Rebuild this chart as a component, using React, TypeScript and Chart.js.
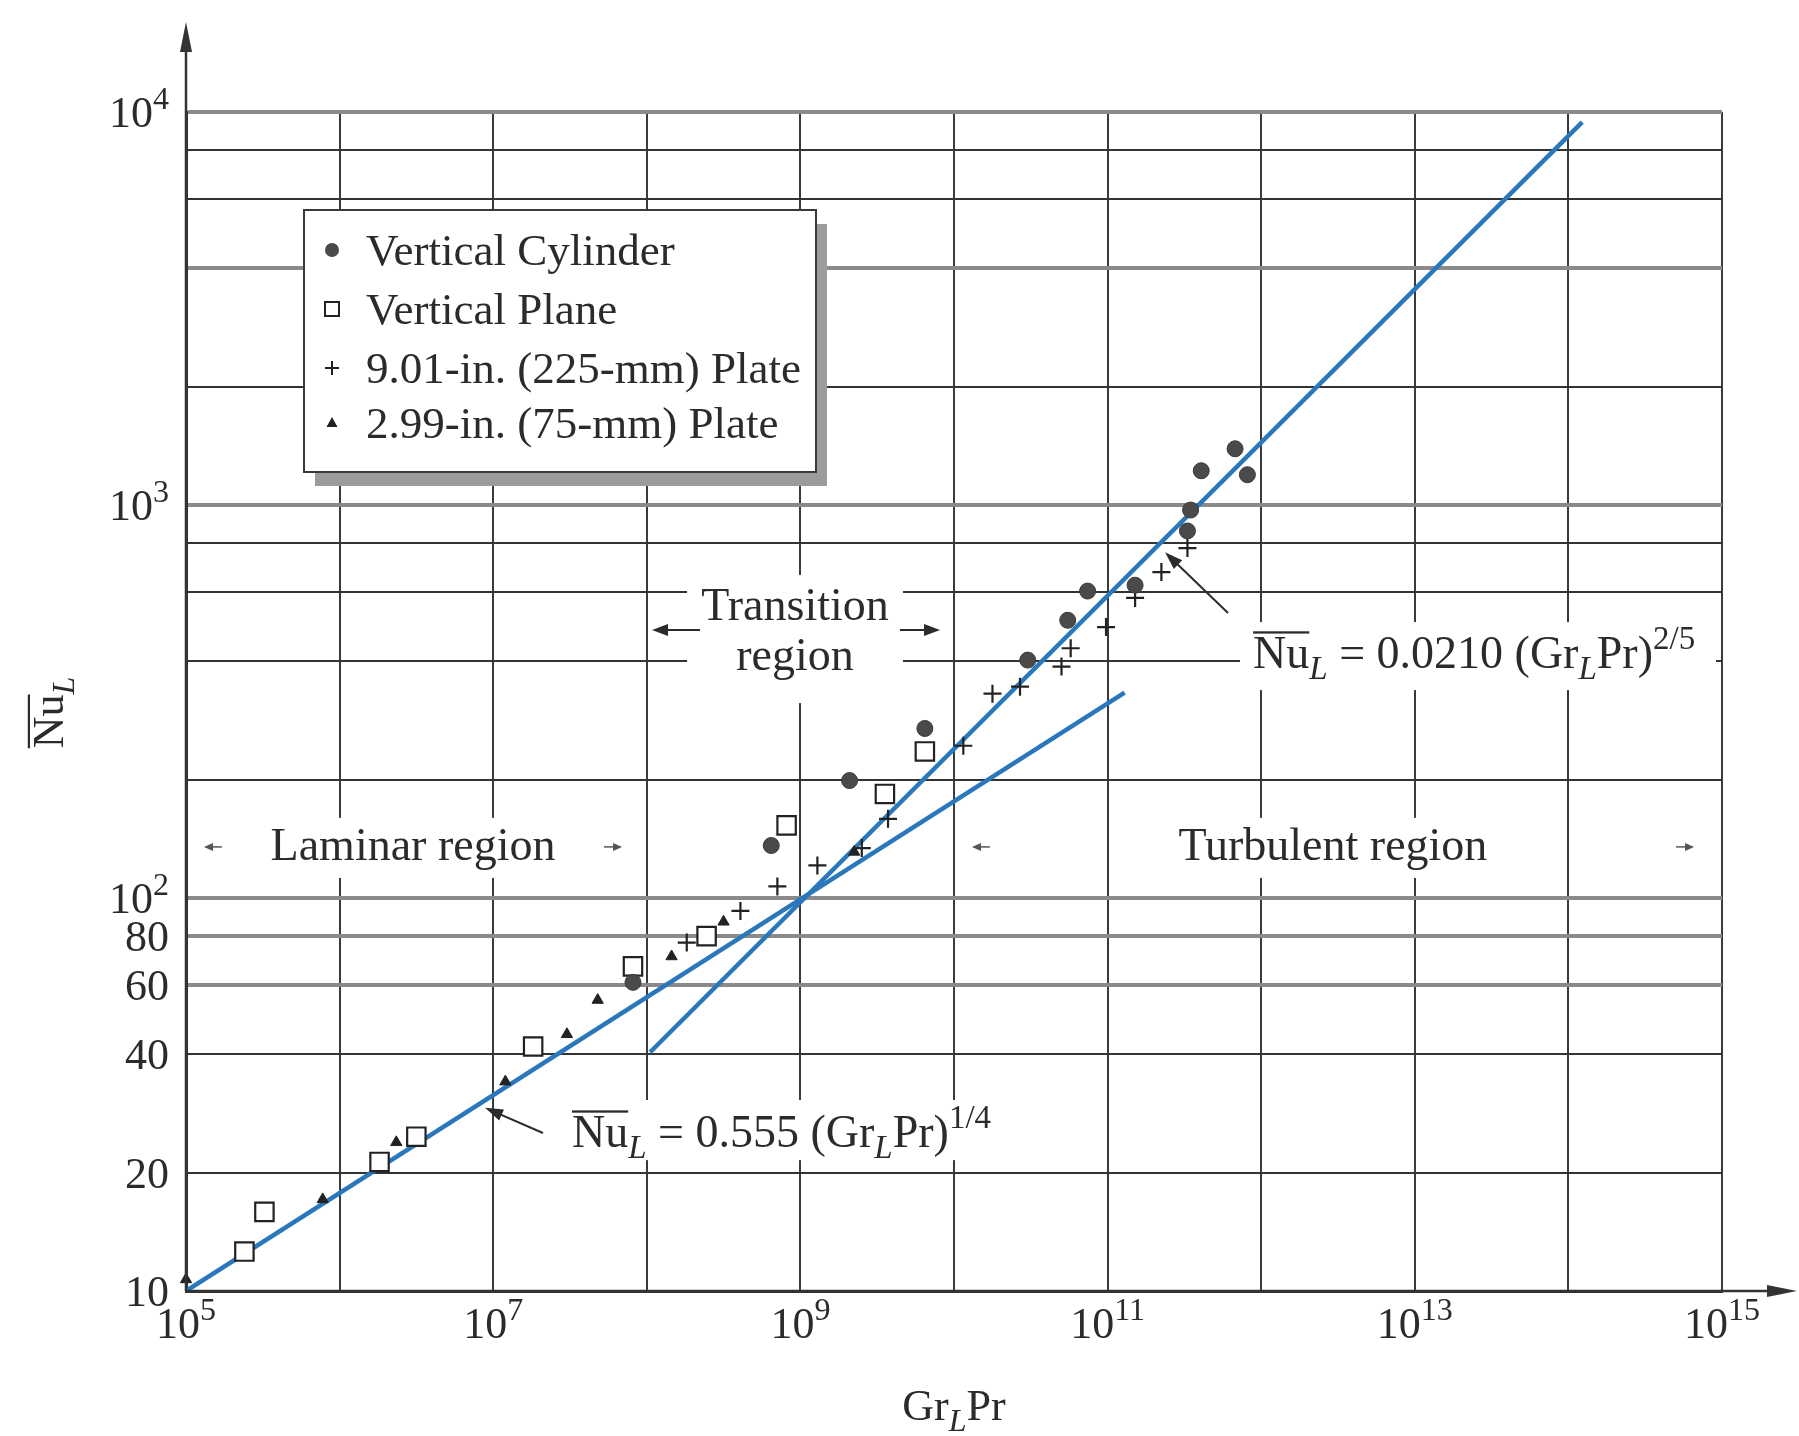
import React, { useEffect, useRef } from 'react';
import { Chart, registerables } from 'chart.js';

Chart.register(...registerables);

const FONT = "'Liberation Serif', 'DejaVu Serif', 'Times New Roman', serif";
const INK = '#2b2b2b';
const BLUE = '#2a78bb';

// ---- data (GrL·Pr, NuL) ----
const cylinderX = [8.13e7, 6.46e8, 2.09e9, 6.46e9, 3.02e10, 5.5e10, 7.41e10, 1.51e11, 3.31e11, 3.47e11, 4.07e11, 6.76e11, 8.13e11];
const cylinderY = [61, 136, 199, 270, 403, 509, 604, 625, 859, 971, 1222, 1390, 1194];

const planeX = [2.4e5, 3.24e5, 1.82e6, 3.16e6, 1.82e7, 8.13e7, 2.45e8, 8.13e8, 3.55e9, 6.46e9];
const planeY = [12.6, 15.9, 21.3, 24.7, 41.9, 67, 80, 153, 184, 236];

const plate225X = [1.82e8, 4.07e8, 7.08e8, 1.29e9, 2.51e9, 3.72e9, 1.15e10, 1.78e10, 2.69e10, 5.01e10, 5.75e10, 9.77e10, 1.51e11, 2.24e11, 3.31e11];
const plate225Y = [77, 92.7, 107, 121, 134, 159, 244, 331, 345, 388, 432, 489, 580, 675, 777];

const plate75X = [1.0e5, 7.76e5, 2.34e6, 1.2e7, 3.02e7, 4.79e7, 1.45e8, 3.16e8, 2.24e9];
const plate75Y = [10.7, 17.1, 23.9, 34.1, 45, 55, 71, 87, 131];

const laminarLineX = [1e5, 1.29e11];
const laminarLineY = [10, 333];
const turbulentLineX = [1.05e8, 1.23e14];
const turbulentLineY = [40.5, 9420];

const seriesLabels = ['Vertical Cylinder', 'Vertical Plane', '9.01-in. (225-mm) Plate', '2.99-in. (75-mm) Plate'];

const xTickValues = [1e5, 1e6, 1e7, 1e8, 1e9, 1e10, 1e11, 1e12, 1e13, 1e14, 1e15];
const xTickLabels = ['10^5', '', '10^7', '', '10^9', '', '10^11', '', '10^13', '', '10^15'];
const yTickValues = [10, 20, 40, 60, 80, 100, 200, 400, 600, 800, 1000, 2000, 4000, 6000, 8000, 10000];
const yTickLabels = ['10', '20', '40', '60', '80', '10^2', '', '', '', '', '10^3', '', '', '', '', '10^4'];

const heavyY = new Set([10000, 4000, 1000, 100, 80, 60]);

type Seg = { t: string; k?: 'sub' | 'sup'; it?: boolean; ov?: boolean };

function segFont(s: Seg, size: number) {
  const sz = s.k ? Math.round(size * 0.72) : size;
  return `${s.it ? 'italic ' : ''}${sz}px ${FONT}`;
}

function drawRich(ctx: CanvasRenderingContext2D, segs: Seg[], x: number, y: number, size: number, align: 'left' | 'center' | 'right' = 'left') {
  const widths = segs.map((s) => {
    ctx.font = segFont(s, size);
    return ctx.measureText(s.t).width;
  });
  const total = widths.reduce((a, b) => a + b, 0);
  let cx = align === 'center' ? x - total / 2 : align === 'right' ? x - total : x;
  ctx.textAlign = 'left';
  ctx.textBaseline = 'alphabetic';
  segs.forEach((s, i) => {
    ctx.font = segFont(s, size);
    const dy = s.k === 'sub' ? size * 0.24 : s.k === 'sup' ? -size * 0.41 : 0;
    ctx.fillText(s.t, cx, y + dy);
    if (s.ov) ctx.fillRect(cx, y - size * 0.8, widths[i], Math.max(2, size * 0.05));
    cx += widths[i];
  });
  return total;
}

function tickSegs(label: string): Seg[] {
  const [base, exp] = label.split('^');
  return exp ? [{ t: base }, { t: exp, k: 'sup' }] : [{ t: base }];
}

function arrow(ctx: CanvasRenderingContext2D, x1: number, y1: number, x2: number, y2: number, len: number, half: number) {
  const a = Math.atan2(y2 - y1, x2 - x1);
  ctx.beginPath();
  ctx.moveTo(x1, y1);
  ctx.lineTo(x2 - len * 0.6 * Math.cos(a), y2 - len * 0.6 * Math.sin(a));
  ctx.stroke();
  ctx.beginPath();
  ctx.moveTo(x2, y2);
  ctx.lineTo(x2 - len * Math.cos(a) + half * Math.sin(a), y2 - len * Math.sin(a) - half * Math.cos(a));
  ctx.lineTo(x2 - len * Math.cos(a) - half * Math.sin(a), y2 - len * Math.sin(a) + half * Math.cos(a));
  ctx.closePath();
  ctx.fill();
}

const eq1: Seg[] = [
  { t: 'Nu', ov: true }, { t: 'L', k: 'sub', it: true }, { t: ' = 0.555 (Gr' }, { t: 'L', k: 'sub', it: true }, { t: 'Pr)' }, { t: '1/4', k: 'sup' },
];
const eq2: Seg[] = [
  { t: 'Nu', ov: true }, { t: 'L', k: 'sub', it: true }, { t: ' = 0.0210 (Gr' }, { t: 'L', k: 'sub', it: true }, { t: 'Pr)' }, { t: '2/5', k: 'sup' },
];
const xTitle: Seg[] = [{ t: 'Gr' }, { t: 'L', k: 'sub', it: true }, { t: 'Pr' }];
const yTitle: Seg[] = [{ t: 'Nu', ov: true }, { t: 'L', k: 'sub', it: true }];

const decorPlugin = {
  id: 'decor',
  beforeDatasetsDraw(chart: any) {
    const { ctx, scales, chartArea: ca } = chart;
    const P = (lx: number, ly: number) => [scales.x.getPixelForValue(10 ** lx), scales.y.getPixelForValue(10 ** ly)];
    ctx.save();

    // tick labels, placed on the library's own ticks
    ctx.fillStyle = INK;
    scales.x.ticks.forEach((t: any, i: number) => {
      const lab = xTickLabels[i];
      if (!lab) return;
      drawRich(ctx, tickSegs(lab), scales.x.getPixelForTick(i), ca.bottom + 47, 44, 'center');
    });
    scales.y.ticks.forEach((t: any, i: number) => {
      const lab = yTickLabels[i];
      if (!lab) return;
      drawRich(ctx, tickSegs(lab), ca.left - 17, scales.y.getPixelForTick(i) + 15, 44, 'right');
    });

    const box = (lx1: number, ly1: number, lx2: number, ly2: number) => {
      const [a, b] = P(lx1, ly1);
      const [c, d] = P(lx2, ly2);
      ctx.fillStyle = '#fff';
      ctx.fillRect(Math.min(a, c), Math.min(b, d), Math.abs(c - a), Math.abs(d - b));
    };
    box(5.469, 2.204, 7.487, 2.051);
    box(8.262, 2.822, 9.668, 2.496);
    box(11.393, 2.204, 13.535, 2.051);
    box(7.448, 1.486, 10.299, 1.333);
    box(11.862, 2.702, 14.961, 2.529);

    ctx.fillStyle = INK;
    ctx.strokeStyle = INK;
    ctx.textBaseline = 'alphabetic';
    ctx.textAlign = 'center';
    ctx.font = `46px ${FONT}`;
    let p = P(6.478, 2.097);
    ctx.fillText('Laminar region', p[0], p[1]);
    p = P(12.467, 2.097);
    ctx.fillText('Turbulent region', p[0], p[1]);
    p = P(8.965, 2.707);
    ctx.fillText('Transition', p[0], p[1]);
    p = P(8.965, 2.58);
    ctx.fillText('region', p[0], p[1]);

    const ar = (l1: number, l2: number, ly: number, len: number, half: number) => {
      const [a, b] = P(l1, ly);
      const [c, d] = P(l2, ly);
      arrow(ctx, a, b, c, d, len, half);
    };
    ctx.strokeStyle = '#555';
    ctx.fillStyle = '#555';
    ctx.lineWidth = 1.5;
    ar(5.234, 5.117, 2.13, 9, 4);
    ar(7.721, 7.839, 2.13, 9, 4);
    ar(10.234, 10.117, 2.13, 9, 4);
    ar(14.701, 14.818, 2.13, 9, 4);
    ctx.strokeStyle = INK;
    ctx.fillStyle = INK;
    ctx.lineWidth = 2;
    ar(8.346, 8.034, 2.682, 16, 6);
    ar(9.648, 9.909, 2.682, 16, 6);

    p = P(7.513, 1.366);
    drawRich(ctx, eq1, p[0], p[1], 46);
    p = P(11.947, 2.585);
    drawRich(ctx, eq2, p[0], p[1], 46);
    let a = P(7.324, 1.402), b = P(6.947, 1.466);
    arrow(ctx, a[0], a[1], b[0], b[1], 18, 6);
    a = P(11.784, 2.725); b = P(11.374, 2.88);
    arrow(ctx, a[0], a[1], b[0], b[1], 18, 6);
    ctx.restore();
  },
  afterDatasetsDraw(chart: any) {
    const { ctx, chartArea: ca } = chart;
    ctx.save();
    const lx = ca.left + 118, ly = ca.top + 98, lw = 512, lh = 262;
    ctx.fillStyle = '#9c9c9c';
    ctx.fillRect(lx + 11, ly + 14, lw, lh);
    ctx.fillStyle = '#fff';
    ctx.fillRect(lx, ly, lw, lh);
    ctx.strokeStyle = '#3a3a3a';
    ctx.lineWidth = 2;
    ctx.strokeRect(lx, ly, lw, lh);
    const baselines = [55, 114, 173, 228];
    const mx = lx + 28;
    chart.data.datasets.slice(0, 4).forEach((ds: any, i: number) => {
      const by = ly + baselines[i];
      const my = by - 15;
      ctx.lineWidth = 2;
      ctx.strokeStyle = '#222';
      if (i === 0) {
        ctx.fillStyle = '#4a4a4a';
        ctx.beginPath(); ctx.arc(mx, my, 7, 0, Math.PI * 2); ctx.fill();
      } else if (i === 1) {
        ctx.fillStyle = '#fff';
        ctx.fillRect(mx - 7, my - 7, 14, 14);
        ctx.strokeRect(mx - 7, my - 7, 14, 14);
      } else if (i === 2) {
        ctx.beginPath();
        ctx.moveTo(mx - 7, my); ctx.lineTo(mx + 7, my);
        ctx.moveTo(mx, my - 7); ctx.lineTo(mx, my + 7);
        ctx.stroke();
      } else {
        ctx.fillStyle = '#222';
        ctx.beginPath();
        ctx.moveTo(mx, my - 6); ctx.lineTo(mx + 5.5, my + 4); ctx.lineTo(mx - 5.5, my + 4);
        ctx.closePath(); ctx.fill();
      }
      ctx.fillStyle = INK;
      ctx.font = `45px ${FONT}`;
      ctx.textAlign = 'left';
      ctx.textBaseline = 'alphabetic';
      ctx.fillText(ds.label, lx + 62, by);
    });
    ctx.restore();
  },
  afterDraw(chart: any) {
    const { ctx, chartArea: ca } = chart;
    ctx.save();
    ctx.strokeStyle = '#333';
    ctx.fillStyle = '#333';
    ctx.lineWidth = 2.5;
    arrow(ctx, ca.left, ca.bottom, ca.left, ca.top - 90, 30, 6);
    arrow(ctx, ca.left, ca.bottom, ca.right + 75, ca.bottom, 30, 6);
    ctx.fillStyle = INK;
    drawRich(ctx, xTitle, (ca.left + ca.right) / 2, ca.bottom + 129, 44, 'center');
    ctx.translate(ca.left - 123, (ca.top + ca.bottom) / 2 + 11);
    ctx.rotate(-Math.PI / 2);
    drawRich(ctx, yTitle, 0, 0, 44, 'center');
    ctx.restore();
  },
};

export default function App() {
  const ref = useRef<HTMLCanvasElement | null>(null);
  useEffect(() => {
    if (!ref.current) return;
    const pts = (xs: number[], ys: number[]) => xs.map((x, i) => ({ x, y: ys[i] }));
    const chart = new Chart(ref.current, {
      type: 'scatter',
      data: {
        datasets: [
          { label: seriesLabels[0], data: pts(cylinderX, cylinderY), pointStyle: 'circle', pointRadius: 8, backgroundColor: '#4a4a4a', borderColor: '#3a3a3a', borderWidth: 1, clip: false } as any,
          { label: seriesLabels[1], data: pts(planeX, planeY), pointStyle: 'rect', pointRadius: 13, backgroundColor: '#ffffff', borderColor: '#222', borderWidth: 2.2, clip: false },
          { label: seriesLabels[2], data: pts(plate225X, plate225Y), pointStyle: 'cross', pointRadius: 9, backgroundColor: '#222', borderColor: '#222', borderWidth: 2.2, clip: false },
          { label: seriesLabels[3], data: pts(plate75X, plate75Y), pointStyle: 'triangle', pointRadius: 6.5, backgroundColor: '#222', borderColor: '#222', borderWidth: 1, clip: false },
          { label: 'laminar', data: pts(laminarLineX, laminarLineY), showLine: true, pointRadius: 0, borderColor: BLUE, borderWidth: 4.5, fill: false },
          { label: 'turbulent', data: pts(turbulentLineX, turbulentLineY), showLine: true, pointRadius: 0, borderColor: BLUE, borderWidth: 4.5, fill: false },
        ],
      },
      options: {
        animation: false,
        responsive: false,
        maintainAspectRatio: false,
        devicePixelRatio: 1,
        layout: { padding: { left: 0, top: 112, right: 77, bottom: 0 } },
        plugins: { legend: { display: false }, tooltip: { enabled: false } },
        scales: {
          x: {
            type: 'logarithmic',
            position: 'bottom',
            min: 1e5,
            max: 1e15,
            afterBuildTicks: (s: any) => { s.ticks = xTickValues.map((v) => ({ value: v })); },
            afterFit: (s: any) => { s.height = 145; },
            ticks: { display: false, autoSkip: false, maxRotation: 0 },
            grid: { color: '#3a3a3a', lineWidth: 2, drawTicks: false },
            border: { display: true, color: '#333', width: 3 },
          },
          y: {
            type: 'logarithmic',
            min: 10,
            max: 10000,
            afterBuildTicks: (s: any) => { s.ticks = yTickValues.map((v) => ({ value: v })); },
            afterFit: (s: any) => { s.width = 186; },
            ticks: { display: false, autoSkip: false },
            grid: {
              drawTicks: false,
              color: (c: any) => (c.tick && heavyY.has(c.tick.value) ? '#8a8a8a' : '#333'),
              lineWidth: (c: any) => (c.tick && heavyY.has(c.tick.value) ? 4 : 2),
            },
            border: { display: true, color: '#333', width: 3 },
          },
        },
      },
      plugins: [decorPlugin],
    } as any);
    return () => chart.destroy();
  }, []);
  return (
    <div style={{ position: 'fixed', left: 0, top: 0, width: 1799, height: 1436, background: '#fff' }}>
      <canvas ref={ref} width={1799} height={1436} style={{ width: 1799, height: 1436, display: 'block' }} />
    </div>
  );
}
